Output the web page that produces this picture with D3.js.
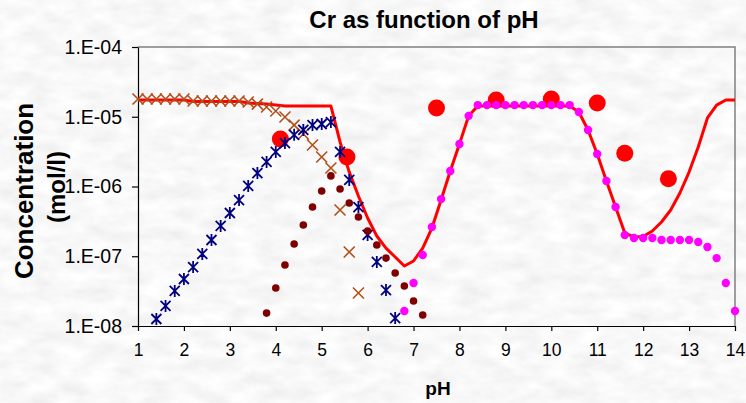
<!DOCTYPE html>
<html>
<head>
<meta charset="utf-8">
<script src="https://cdn.jsdelivr.net/npm/d3@7"></script>
<style>
  html, body { margin: 0; padding: 0; background: #eeeeee; }
  svg { display: block; }
  text { font-family: Arial, "Liberation Sans", sans-serif; }
</style>
</head>
<body>
<div id="chart"></div>
<script>
// measured concentrations (big red dots)
const measuredPh = [4.1, 5.55, 7.5, 8.8, 10.0, 11.0, 11.6, 12.55];
const measuredConc = [4.8e-6, 2.65e-6, 1.33e-5, 1.74e-5, 1.8e-5, 1.57e-5, 3.0e-6, 1.29e-6];

// calculated total (red line)
const totalPh = [1.0, 2.0, 2.2, 3.2, 3.4, 3.6, 3.8, 4.0, 4.2, 5.2, 5.4, 5.6, 5.8, 6.0, 6.2, 6.4, 6.6,
  6.8, 7.0, 7.2, 7.4, 7.6, 7.8, 8.0, 8.2, 8.4, 10.4, 10.6, 10.8, 11.0, 11.2, 11.4, 11.6, 11.8,
  12.0, 12.2, 12.4, 12.6, 12.8, 13.0, 13.2, 13.4, 13.6, 13.8, 14.0];
const totalConc = [1.74e-5, 1.74e-5, 1.66e-5, 1.66e-5, 1.57e-5, 1.55e-5, 1.52e-5, 1.47e-5, 1.43e-5,
  1.43e-5, 4.35e-6, 1.61e-6, 7.3e-7, 3.53e-7, 1.95e-7, 1.31e-7, 9.75e-8, 7.25e-8, 8.55e-8,
  1.31e-7, 2.54e-7, 6.4e-7, 1.67e-6, 4.07e-6, 1.03e-5, 1.43e-5, 1.43e-5, 1.17e-5, 6.46e-6,
  2.92e-6, 1.2e-6, 5.08e-7, 2.15e-7, 1.89e-7, 1.92e-7, 2.3e-7, 3.1e-7, 4.6e-7, 8.07e-7,
  1.61e-6, 3.68e-6, 9.6e-6, 1.47e-5, 1.74e-5, 1.74e-5];

// brown crosses
const crossPh = [1.0, 1.2, 1.4, 1.6, 1.8, 2.0, 2.2, 2.4, 2.6, 2.8, 3.0, 3.2, 3.4, 3.6, 3.8, 4.0,
  4.2, 4.4, 4.6, 4.8, 5.0, 5.2, 5.4, 5.6, 5.8];
const crossConc = [1.8e-5, 1.8e-5, 1.8e-5, 1.8e-5, 1.8e-5, 1.8e-5, 1.68e-5, 1.68e-5, 1.68e-5,
  1.68e-5, 1.68e-5, 1.68e-5, 1.63e-5, 1.52e-5, 1.38e-5, 1.21e-5, 9.9e-6, 7.6e-6, 5.66e-6,
  3.94e-6, 2.65e-6, 1.84e-6, 4.6e-7, 1.15e-7, 2.97e-8];

// navy asterisks
const starPh = [1.4, 1.6, 1.8, 2.0, 2.2, 2.4, 2.6, 2.8, 3.0, 3.2, 3.4, 3.6, 3.8, 4.0, 4.2, 4.4,
  4.6, 4.8, 5.0, 5.2, 5.4, 5.6, 5.8, 6.0, 6.2, 6.4, 6.6];
const starConc = [1.26e-8, 1.94e-8, 3.18e-8, 4.72e-8, 7.0e-8, 1.08e-7, 1.71e-7, 2.72e-7, 4.17e-7,
  6.4e-7, 1.02e-6, 1.56e-6, 2.25e-6, 3.13e-6, 4.2e-6, 5.5e-6, 6.46e-6, 7.6e-6, 7.87e-6, 8.4e-6,
  3.13e-6, 1.24e-6, 5.08e-7, 2.02e-7, 8.3e-8, 3.28e-8, 1.3e-8];

// dark red dots
const darkPh = [3.8, 4.0, 4.2, 4.4, 4.6, 4.8, 5.0, 5.2, 5.4, 5.6, 5.8, 6.0, 6.2, 6.4, 6.6, 6.8, 7.0, 7.2];
const darkConc = [1.53e-8, 3.5e-8, 7.5e-8, 1.5e-7, 2.8e-7, 5.08e-7, 8.6e-7, 1.42e-6, 9.2e-7,
  5.8e-7, 3.65e-7, 2.3e-7, 1.45e-7, 9.4e-8, 5.75e-8, 3.74e-8, 2.28e-8, 1.44e-8];

// magenta dots
const pinkPh = [6.8, 7.0, 7.2, 7.4, 7.6, 7.8, 8.0, 8.2, 8.4, 8.6, 8.8, 9.0, 9.2, 9.4, 9.6, 9.8,
  10.0, 10.2, 10.4, 10.6, 10.8, 11.0, 11.2, 11.4, 11.6, 11.8, 12.0, 12.2, 12.4, 12.6, 12.8,
  13.0, 13.2, 13.4, 13.6, 13.8, 14.0];
const pinkConc = [1.64e-8, 4.13e-8, 1.04e-7, 2.62e-7, 6.6e-7, 1.67e-6, 4.07e-6, 1.03e-5, 1.47e-5,
  1.47e-5, 1.47e-5, 1.47e-5, 1.47e-5, 1.47e-5, 1.47e-5, 1.47e-5, 1.47e-5, 1.47e-5, 1.47e-5,
  1.17e-5, 6.46e-6, 2.92e-6, 1.2e-6, 5.08e-7, 2.02e-7, 1.83e-7, 1.83e-7, 1.83e-7, 1.71e-7,
  1.71e-7, 1.71e-7, 1.71e-7, 1.6e-7, 1.36e-7, 9.4e-8, 4.13e-8, 1.64e-8];

const xTicks = [1, 2, 3, 4, 5, 6, 7, 8, 9, 10, 11, 12, 13, 14];
const yTicks = [1e-8, 1e-7, 1e-6, 1e-5, 1e-4];

const width = 746, height = 403;
const plot = { left: 138, right: 735, top: 47, bottom: 326 };

const svg = d3.select("#chart")
  .append("svg")
  .attr("width", width)
  .attr("height", height);

// light granite-like background
const defs = svg.append("defs");
const filt = defs.append("filter").attr("id", "granite")
  .attr("x", 0).attr("y", 0).attr("width", "100%").attr("height", "100%");
filt.append("feTurbulence")
  .attr("type", "fractalNoise")
  .attr("baseFrequency", "0.035 0.07")
  .attr("numOctaves", 3)
  .attr("seed", 7);
filt.append("feColorMatrix")
  .attr("type", "matrix")
  .attr("values", "0.22 0 0 0 0.83  0.22 0 0 0 0.83  0.22 0 0 0 0.83  0 0 0 0 1");

svg.append("rect")
  .attr("width", width)
  .attr("height", height)
  .attr("fill", "#eeeeee");
svg.append("rect")
  .attr("width", width)
  .attr("height", height)
  .attr("filter", "url(#granite)");

const x = d3.scaleLinear().domain([1, 14]).range([plot.left, plot.right]);
const y = d3.scaleLog().domain([1e-8, 1e-4]).range([plot.bottom, plot.top]);

// top and right border of the plot area
svg.append("path")
  .attr("d", `M${plot.left},${plot.top}H${plot.right}V${plot.bottom}`)
  .attr("fill", "none")
  .attr("stroke", "#808080")
  .attr("stroke-width", 1.5);

const yAxis = svg.append("g")
  .attr("transform", `translate(${plot.left},0)`)
  .call(d3.axisLeft(y)
    .tickValues(yTicks)
    .tickSize(6)
    .tickSizeOuter(0)
    .tickPadding(10)
    .tickFormat(d => "1.E-" + String(Math.round(-Math.log10(d))).padStart(2, "0")));
yAxis.selectAll("text")
  .attr("font-size", 19.5)
  .attr("font-family", "Arial, 'Liberation Sans', sans-serif")
  .attr("fill", "#000");

const xAxis = svg.append("g")
  .attr("transform", `translate(0,${plot.bottom})`)
  .call(d3.axisBottom(x)
    .tickValues(xTicks)
    .tickSize(5)
    .tickSizeOuter(0)
    .tickPadding(13)
    .tickFormat(d3.format("d")));
xAxis.selectAll("text")
  .attr("font-size", 17.5)
  .attr("font-family", "Arial, 'Liberation Sans', sans-serif")
  .attr("fill", "#000");
svg.selectAll(".domain, .tick line").attr("stroke", "#000").attr("stroke-width", 1.2);

// titles
svg.append("text")
  .attr("x", 424)
  .attr("y", 28)
  .attr("text-anchor", "middle")
  .attr("font-size", 24)
  .attr("font-weight", "bold")
  .text("Cr as function of pH");

svg.append("text")
  .attr("x", 438)
  .attr("y", 395)
  .attr("text-anchor", "middle")
  .attr("font-size", 19)
  .attr("font-weight", "bold")
  .text("pH");

svg.append("text")
  .attr("transform", "translate(33,191) rotate(-90)")
  .attr("text-anchor", "middle")
  .attr("font-size", 26)
  .attr("font-weight", "bold")
  .text("Concentration");

svg.append("text")
  .attr("transform", "translate(65,187) rotate(-90)")
  .attr("text-anchor", "middle")
  .attr("font-size", 24)
  .attr("font-weight", "bold")
  .text("(mol/l)");

const zip = (xs, ys) => xs.map((v, i) => ({ ph: v, c: ys[i] }));

// measured points
svg.append("g")
  .selectAll("circle")
  .data(zip(measuredPh, measuredConc))
  .join("circle")
  .attr("cx", d => x(d.ph))
  .attr("cy", d => y(d.c))
  .attr("r", 8.5)
  .attr("fill", "#ff0000");

// total line
const line = d3.line()
  .x(d => x(d.ph))
  .y(d => y(d.c));

svg.append("path")
  .datum(zip(totalPh, totalConc))
  .attr("d", line)
  .attr("fill", "none")
  .attr("stroke", "#ff0000")
  .attr("stroke-width", 3)
  .attr("stroke-linejoin", "round");

// brown crosses
svg.append("g")
  .selectAll("path")
  .data(zip(crossPh, crossConc))
  .join("path")
  .attr("transform", d => `translate(${x(d.ph)},${y(d.c)})`)
  .attr("d", "M-5.5,-5.5L5.5,5.5M-5.5,5.5L5.5,-5.5")
  .attr("stroke", "#b0501a")
  .attr("stroke-width", 1.6)
  .attr("fill", "none");

// navy asterisks
svg.append("g")
  .selectAll("path")
  .data(zip(starPh, starConc))
  .join("path")
  .attr("transform", d => `translate(${x(d.ph)},${y(d.c)})`)
  .attr("d", "M-5,-5L5,5M-5,5L5,-5M0,-6L0,6")
  .attr("stroke", "#000080")
  .attr("stroke-width", 1.8)
  .attr("fill", "none");

// dark red dots
svg.append("g")
  .selectAll("circle")
  .data(zip(darkPh, darkConc))
  .join("circle")
  .attr("cx", d => x(d.ph))
  .attr("cy", d => y(d.c))
  .attr("r", 3.8)
  .attr("fill", "#800000");

// magenta dots
svg.append("g")
  .selectAll("circle")
  .data(zip(pinkPh, pinkConc))
  .join("circle")
  .attr("cx", d => x(d.ph))
  .attr("cy", d => y(d.c))
  .attr("r", 4.2)
  .attr("fill", "#ff00ff");
</script>
</body>
</html>
